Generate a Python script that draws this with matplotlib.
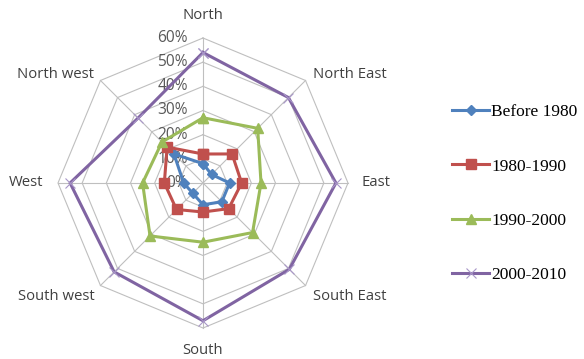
import numpy as np
import matplotlib
matplotlib.use("Agg")
import matplotlib.pyplot as plt

# directions, clockwise from the top
directions = ["North", "North East", "East", "South East",
              "South", "South west", "West", "North west"]

before_1980 = [8, 5, 11, 11, 9, 6, 8, 17]
y1980_1990 = [12, 17, 16, 15, 12, 15.5, 16, 21]
y1990_2000 = [27, 32, 24, 29, 24.5, 31, 25, 24]
y2000_2010 = [54, 50, 55, 50.5, 57, 52, 55, 38]

series_names = ["Before 1980", "1980-1990", "1990-2000", "2000-2010"]
rings = [0, 10, 20, 30, 40, 50, 60]
ring_labels = ["0%", "10%", "20%", "30%", "40%", "50%", "60%"]

W, H = 584, 359
fig = plt.figure(figsize=(W / 100, H / 100), dpi=100)

# centre of the radar and pixels per percent
cx, cy = 203, 183
px = 145 / 60
half_w, half_h = 175, 176
ax = fig.add_axes([(cx - half_w) / W, (H - cy - half_h) / H, 2 * half_w / W, 2 * half_h / H])
ax.set_xlim(-half_w / px, half_w / px)
ax.set_ylim(-half_h / px, half_h / px)
ax.set_axis_off()

n = len(directions)
ang = np.arange(n) * 2 * np.pi / n


def xy(vals):
    v = np.asarray(vals, dtype=float)
    x = v * np.sin(ang)
    y = v * np.cos(ang)
    return np.append(x, x[0]), np.append(y, y[0])


grid_col = "#BFBFBF"
for r in rings[1:]:
    gx, gy = xy([r] * n)
    ax.plot(gx, gy, color=grid_col, lw=0.8, zorder=1)
for a in ang:
    ax.plot([0, 60 * np.sin(a)], [0, 60 * np.cos(a)], color=grid_col, lw=0.8, zorder=1)

# ring labels along the north spoke
for r, lab in zip(rings, ring_labels):
    ax.text(-6.2, r, lab, ha="right", va="center", fontsize=11.2,
            color="#595959", family="Open Sans", zorder=2)

# direction labels
lab_font = dict(fontsize=10.7, color="#404040", family="Open Sans")
ax.text(0, 69.5, "North", ha="center", va="center", **lab_font)
ax.text(45.5, 45, "North East", ha="left", va="center", **lab_font)
ax.text(65.5, 0, "East", ha="left", va="center", **lab_font)
ax.text(45.5, -47, "South East", ha="left", va="center", **lab_font)
ax.text(0, -69.5, "South", ha="center", va="center", **lab_font)
ax.text(-45, -47, "South west", ha="right", va="center", **lab_font)
ax.text(-66, 0, "West", ha="right", va="center", **lab_font)
ax.text(-45, 45, "North west", ha="right", va="center", **lab_font)

styles = [
    dict(color="#4F81BD", marker="D", ms=5),
    dict(color="#C0504D", marker="s", ms=7.5),
    dict(color="#9BBB59", marker="^", ms=7.5),
    dict(color="#8064A2", marker="x", ms=7, mew=0.8, mec="#A896C8"),
]
handles = []
for i, (vals, name, st) in enumerate(zip([before_1980, y1980_1990, y1990_2000, y2000_2010],
                                           series_names, styles)):
    sx, sy = xy(vals)
    st = dict(st)
    st.setdefault("mec", st["color"])
    (h,) = ax.plot(sx, sy, lw=2.2, label=name, zorder=3 + i, **st)
    handles.append(h)

fig.legend(handles=handles, loc="upper left", bbox_to_anchor=(452 / W, 1 - 104 / H),
           frameon=False, prop={"family": "Liberation Serif", "size": 12.5},
           labelspacing=2.2, handlelength=2.15, handletextpad=0.12, borderaxespad=0,
           borderpad=0)

fig.savefig("out.png", dpi=100)
